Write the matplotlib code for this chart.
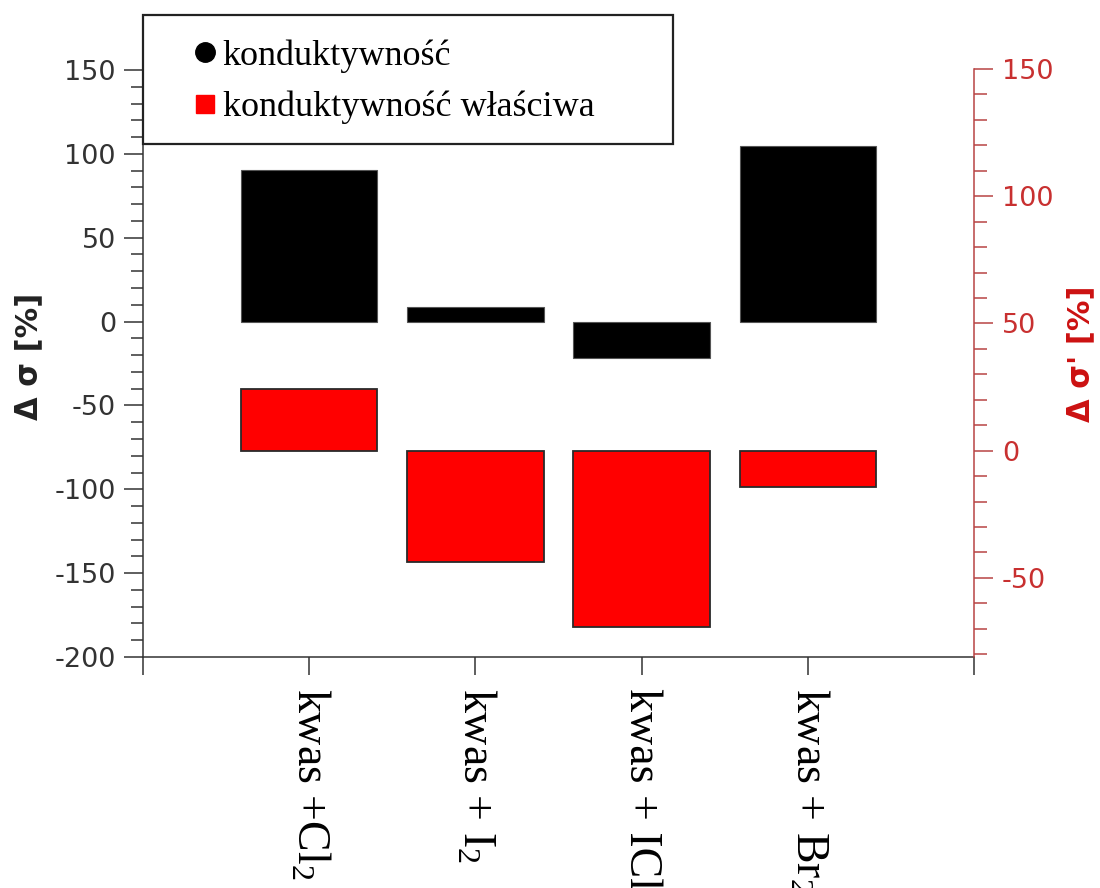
"""Change in conductivity for the acid with different halogen dopants."""

import matplotlib

matplotlib.use("Agg")
import matplotlib.pyplot as plt
from matplotlib.lines import Line2D
from matplotlib.patches import Rectangle
from matplotlib.ticker import FixedLocator

plt.rcParams["mathtext.fontset"] = "custom"
plt.rcParams["mathtext.rm"] = "Liberation Serif"
plt.rcParams["mathtext.it"] = "Liberation Serif"
plt.rcParams["mathtext.bf"] = "Liberation Serif"
plt.rcParams["axes.unicode_minus"] = False

# dopant samples, x positions 1..4
samples = ["kwas +Cl$_2$", "kwas + I$_2$", "kwas + ICl", "kwas + Br$_2$"]
positions = [1, 2, 3, 4]

# relative change of conductivity, left axis [%]
delta_sigma = [90.4, 8.7, -21.7, 104.7]
# relative change of specific conductivity, right axis [%]
delta_sigma_spec = [24.2, -43.7, -69.3, -14.2]

left_major = [-200, -150, -100, -50, 0, 50, 100, 150]
right_major = [-50, 0, 50, 100, 150]

dark = "#333333"
right_color = "#b84444"
right_text = "#c83030"

fig = plt.figure(figsize=(11, 8.88), dpi=100)
ax = fig.add_axes([143 / 1100, 1 - 657 / 888, 831 / 1100, 642 / 888])
ax2 = ax.twinx()

ax.bar(positions, delta_sigma, width=0.82, color="black",
       edgecolor="#555555", linewidth=0.8)
ax2.bar(positions, delta_sigma_spec, width=0.82, color="#ff0000",
        edgecolor="#2a2a2a", linewidth=1.3)

ax.set_xlim(0, 5)
ax.set_ylim(-200, 182.8)
ax2.set_ylim(-81.1, 171.2)

# left axis
ax.yaxis.set_major_locator(FixedLocator(left_major))
ax.yaxis.set_minor_locator(
    FixedLocator([v for v in range(-190, 150, 10) if v % 50]))
ax.tick_params(axis="y", which="major", direction="out", length=13.5,
               width=1.1, color=dark, labelcolor=dark, labelsize=19.5, pad=6)
ax.tick_params(axis="y", which="minor", direction="out", length=8.5,
               width=1.1, color=dark)
ax.set_ylabel("Δ σ [%]", fontsize=22, fontweight="bold", color="#222222",
              va="center")
ax.yaxis.set_label_coords(-0.137, 0.469)

# category axis, ticks also at both ends
ax.set_xticks([0] + positions + [5])
ax.set_xticklabels([""] + samples + [""], rotation=270,
                   family="Liberation Serif", fontsize=33)
ax.tick_params(axis="x", direction="out", length=13, width=1.1,
               color=dark, labelcolor="black", pad=9)

for side in ("top", "right"):
    ax.spines[side].set_visible(False)
for side in ("left", "bottom"):
    ax.spines[side].set_color(dark)
    ax.spines[side].set_linewidth(1.1)

# right axis
for side in ("top", "left", "bottom"):
    ax2.spines[side].set_visible(False)
ax2.spines["right"].set_color(right_color)
ax2.spines["right"].set_linewidth(1.1)
ax2.spines["right"].set_bounds(-81.1, 150)
ax2.yaxis.set_major_locator(FixedLocator(right_major))
ax2.yaxis.set_minor_locator(
    FixedLocator([v for v in range(-80, 150, 10) if v % 50]))
ax2.tick_params(axis="y", which="major", direction="out", length=14,
                width=1.1, color=right_color, labelcolor=right_text,
                labelsize=19.5, pad=6)
ax2.tick_params(axis="y", which="minor", direction="out", length=9,
                width=1.1, color=right_color)
ax2.set_ylabel("Δ σ' [%]", fontsize=22, fontweight="bold", color="#cc1111",
               rotation=90, va="center")
ax2.yaxis.set_label_coords(1.1288, 0.472)

# legend box in the upper left corner
box = Rectangle((0, 0.799), 0.6378, 0.201, transform=ax.transAxes,
                facecolor="white", edgecolor="#222222", linewidth=1.6,
                clip_on=False, zorder=5)
ax2.add_patch(box)
handles = [
    Line2D([], [], marker="o", linestyle="none", color="black",
           markersize=14),
    Line2D([], [], marker="s", linestyle="none", color="#ff0000",
           markersize=13),
]
leg = ax2.legend(handles, ["konduktywność", "konduktywność właściwa"],
                 loc="upper left", bbox_to_anchor=(0.061, 0.962),
                 frameon=False, borderpad=0, borderaxespad=0,
                 handlelength=0.6, handletextpad=0.2, labelspacing=0.5,
                 prop={"family": "Liberation Serif", "size": 26})
leg.set_zorder(6)

fig.savefig("out.png", dpi=100)
plt.close(fig)
